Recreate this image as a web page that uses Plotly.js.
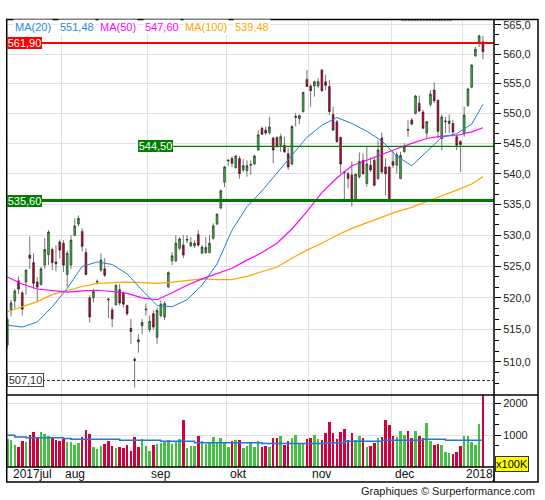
<!DOCTYPE html>
<html><head><meta charset="utf-8">
<script src="https://cdn.plot.ly/plotly-3.0.1.min.js"></script>
<style>html,body{margin:0;padding:0;background:#fff}#chart{width:545px;height:500px}</style>
</head><body><div id="chart"></div>
<script>
// ---- data ----
const monthLabels = ['2017jul','aug','sep','okt','nov','dec','2018j'];
const monthStart = [0,15,38,59,81,103,122];

const open = [512.6,518.0,519.5,522.7,520.8,522.5,526.8,525.6,522.5,522.1,525.2,526.9,527.7,525.7,528.9,528.7,523.7,525.2,530.0,531.8,
530.6,527.2,520.0,520.0,522.5,524.4,524.6,519.8,518.1,518.9,521.3,520.8,518.8,515.2,510.4,513.4,515.6,518.1,515.0,517.5,
513.8,517.2,517.0,521.7,525.9,525.9,527.9,528.4,529.2,528.3,528.3,530.1,527.1,527.2,527.2,529.5,531.8,534.4,538.6,542.1,
542.5,541.0,542.5,540.6,540.5,541.4,541.6,543.9,547.5,547.2,546.8,545.9,546.0,544.7,544.7,543.3,541.6,549.3,549.1,550.3,
555.7,554.6,554.6,554.6,557.3,555.3,554.5,549.8,548.6,546.0,540.3,540.0,539.8,535.7,539.5,542.2,538.4,541.4,542.2,539.2,
545.9,541.1,541.1,542.0,541.4,539.2,543.6,547.3,548.9,550.0,551.7,550.2,546.7,551.5,553.9,552.2,545.8,548.6,548.3,548.3,
546.1,545.3,546.6,551.3,554.4,559.7,562.1,562.1];
const high = [516.9,519.7,521.4,523.4,521.0,524.5,529.8,527.1,523.3,524.9,529.5,530.8,528.0,528.4,529.3,529.2,527.5,530.0,532.7,533.2,
531.1,527.9,520.4,521.4,522.9,527.1,526.3,520.0,518.5,522.1,522.2,521.0,518.9,516.7,510.7,514.3,516.7,519.1,517.2,518.0,
518.5,519.6,519.5,524.2,527.3,530.0,529.7,530.0,530.0,529.7,529.2,530.8,528.4,529.7,530.0,531.9,533.5,537.4,541.3,542.4,
542.8,543.1,542.9,542.4,542.2,542.2,543.1,547.2,547.8,547.8,549.4,546.1,546.1,546.6,546.1,544.3,548.0,550.0,549.8,553.6,
557.3,554.9,555.5,555.9,557.4,556.5,555.6,551.1,548.9,546.1,540.4,540.3,542.0,540.0,543.5,543.3,544.4,542.7,542.8,545.5,
546.8,542.5,541.2,543.6,543.6,543.6,545.0,548.9,549.2,553.1,553.0,550.6,548.7,553.9,555.2,552.3,549.8,549.4,549.8,548.9,
546.5,545.5,551.1,554.2,558.3,561.2,563.2,563.1];
const low = [512.1,517.1,518.3,520.6,517.2,520.5,524.6,521.4,519.3,522.0,524.6,525.2,524.4,524.2,526.3,524.1,521.7,524.6,529.8,531.4,
527.4,523.6,516.1,519.3,522.1,524.1,523.3,516.8,515.4,518.8,518.8,518.5,517.2,512.8,506.0,511.4,514.3,517.2,514.6,515.0,
512.8,516.9,516.5,521.6,525.2,525.7,527.6,526.3,528.7,528.1,527.9,528.1,527.0,527.0,527.1,529.3,531.6,534.2,537.8,541.3,
541.1,540.8,539.2,540.3,539.5,539.8,541.4,543.8,546.4,546.4,546.4,541.7,544.2,543.6,543.4,540.6,541.4,547.8,548.2,550.1,
554.4,551.1,552.8,554.2,553.6,553.9,549.7,547.1,545.1,540.1,535.7,537.6,534.6,535.5,539.2,539.8,537.9,540.3,537.9,539.0,
540.0,536.5,535.3,540.9,540.0,539.1,543.5,546.1,548.0,549.8,550.2,547.4,545.8,551.1,551.7,545.8,543.9,546.7,546.7,546.3,
543.9,540.3,546.1,551.1,554.2,559.5,561.2,559.1];
const close = [516.6,519.2,521.1,521.4,518.2,524.4,526.3,522.3,521.7,524.6,527.7,530.5,525.6,525.4,527.6,525.2,527.1,529.2,531.5,532.7,
528.2,523.7,517.0,521.0,522.6,526.0,523.6,519.7,516.7,522.0,519.2,519.0,517.5,514.7,510.2,513.1,516.1,518.2,516.3,515.4,
518.0,519.0,519.1,524.0,526.7,528.7,529.4,526.8,529.3,528.8,528.7,528.4,528.1,528.0,528.7,531.5,533.4,537.2,541.1,542.2,
541.7,542.9,540.0,541.3,541.3,541.5,542.9,546.4,546.5,546.7,547.7,543.9,544.6,546.1,543.6,541.1,547.8,549.5,549.6,553.5,
554.5,553.8,555.3,555.3,553.8,554.7,550.3,547.2,545.3,541.6,540.2,539.2,535.7,539.9,542.0,540.0,541.6,540.6,538.1,543.9,
540.3,540.0,535.6,541.4,543.1,543.0,544.4,547.2,548.2,552.9,550.4,547.5,548.6,553.2,552.1,547.0,549.4,548.7,548.7,546.9,
544.7,544.8,549.7,554.1,558.1,560.8,563.1,560.4];
const volume = [874,842,684,621,810,779,1000,1095,926,1095,1032,968,947,842,810,895,779,779,684,758,
947,1158,1032,621,558,653,716,810,653,589,632,589,684,495,937,621,874,653,495,684,
737,768,789,842,737,810,874,1474,600,663,663,968,810,716,758,937,768,916,758,621,
810,842,842,589,653,758,621,810,621,653,621,900,916,968,705,810,916,1000,737,737,
874,916,1000,874,842,1074,1421,1074,874,1105,1200,842,1084,842,968,916,632,663,758,916,
947,1474,1337,979,947,1126,1000,1137,926,1126,979,916,1389,821,684,737,705,474,442,421,
474,653,979,979,789,705,1368,2600];

const maIdx = [0,4,8,12,16,20,24,28,32,36,40,44,48,52,56,60,64,68,72,76,80,84,88,92,96,100,104,108,112,116,120,124,127];
const ma20 = [515.7,515.4,516.2,518.6,521.5,525.0,525.7,525.3,523.8,521.2,518.8,518.6,519.7,522.0,525.4,530.8,534.6,537.2,540.1,543.1,546.0,548.0,549.3,548.3,547.0,545.4,542.9,541.3,543.6,546.0,546.6,548.2,551.48];
const ma50 = [523.3,522.2,521.4,521.1,520.9,521.1,521.2,521.0,520.7,520.0,519.7,520.8,522.0,523.0,523.8,524.7,526.0,527.2,528.7,531.0,533.8,536.9,539.3,541.3,542.2,543.2,544.1,545.0,545.8,546.2,546.3,546.9,547.60];
const ma100 = [517.8,518.6,519.4,520.5,521.2,521.8,522.3,522.4,522.5,522.4,522.3,522.5,522.8,523.0,522.9,522.9,523.4,524.2,524.9,526.3,527.6,528.7,530.0,531.1,532.0,532.9,533.8,534.5,535.5,536.4,537.3,538.3,539.48];

const volMaIdx = [0,2,5,15,17,30,41,50,68,85,90,100,111,117,127];
const volMa = [1000,947,926,895,874,842,810,768,737,768,810,842,874,842,842];

const levelLast = 561.90, levelRes = 544.50, levelSup = 535.60, levelLow = 507.10;
const priceTicks = [510,515,520,525,530,535,540,545,550,555,560,565];
const volTicks = [1000,2000];

// ---- drawing ----
const GREEN = '#3cb83c', RED = '#cc0033', OUT = '#1a1a1a';
const FONT = 'Liberation Sans, Arial, sans-serif';
const idx = open.map((_, i) => i);
const fmt = (v, d) => v.toFixed(d).replace('.', ',');
const X0 = -0.08, X1 = 129.96;
const GRID = '#e2e2e2';

const minorP = [];
for (let j = 0; j <= 36; j++) { const v = 505 + j * 5 / 3; if (j % 3 !== 0 && v < 565.8) minorP.push(v); }

const traces = [
  {type:'candlestick', x: idx, open, high, low, close, xaxis:'x', yaxis:'y',
   whiskerwidth:0, line:{width:0.6},
   increasing:{line:{color:OUT, width:0.6}, fillcolor:GREEN},
   decreasing:{line:{color:OUT, width:0.6}, fillcolor:RED}, hoverinfo:'skip'},
  {type:'scatter', mode:'lines', x: maIdx, y: ma100, line:{color:'#ffa500', width:1.2}, yaxis:'y', hoverinfo:'skip'},
  {type:'scatter', mode:'lines', x: maIdx, y: ma50, line:{color:'#ff00ff', width:1.2}, yaxis:'y', hoverinfo:'skip'},
  {type:'scatter', mode:'lines', x: maIdx, y: ma20, line:{color:'#1e7fd8', width:1}, yaxis:'y', hoverinfo:'skip'},
  // level lines
  {type:'scatter', mode:'lines', x:[X0, X1], y:[levelLow, levelLow], line:{color:'#333', width:1, dash:'3px,2px'}, yaxis:'y', hoverinfo:'skip'},
  {type:'scatter', mode:'lines', x:[35, X1], y:[levelRes, levelRes], line:{color:'#008000', width:1.2}, yaxis:'y', hoverinfo:'skip'},
  {type:'scatter', mode:'lines', x:[X0, X1], y:[levelSup, levelSup], line:{color:'#007a00', width:3}, yaxis:'y', hoverinfo:'skip'},
  {type:'scatter', mode:'lines', x:[X0, X1], y:[levelLast, levelLast], line:{color:'#ff0000', width:2}, yaxis:'y', hoverinfo:'skip'},
  // volume
  {type:'bar', x: idx, y: volume, width:0.68, yaxis:'y2',
   marker:{color: idx.map(i => close[i] >= open[i] ? '#44c044' : '#d4003c'), line:{width:0}}, hoverinfo:'skip'},
  {type:'scatter', mode:'lines', x: volMaIdx, y: volMa, line:{color:'#1e78d4', width:1.5, shape:'hv'}, yaxis:'y2', hoverinfo:'skip'}
];

const ann = [];
// legend
const leg = [['MA(20)', '#2a86e0', 0.0117], [fmt(ma20[ma20.length-1],2), '#2a86e0', 0.1053],
             ['MA(50)', '#ff00ff', 0.1875], [fmt(ma50[ma50.length-1],2), '#ff00ff', 0.2786],
             ['MA(100)', '#ffa500', 0.362], [fmt(ma100[ma100.length-1],2), '#ffa500', 0.4647]];
leg.forEach(l => ann.push({xref:'paper', yref:'paper', x:l[2], y:0.985, xanchor:'left', yanchor:'middle',
  text:l[0], showarrow:false, bgcolor:'#fff', borderpad:1, font:{family:FONT, size:11, color:l[1]}}));
// level labels
const lvl = (val, xp, bg, fg, border) => ann.push({xref:'paper', yref:'y', x:xp, y:Math.log10(val),
  xanchor:'left', yanchor:'middle', text:fmt(val,2), showarrow:false, bgcolor:bg, bordercolor:border || bg,
  borderwidth: border ? 1 : 0, borderpad:0, width:35, height:12, font:{family:FONT, size:11, color:fg}});
lvl(levelLast, 0, '#ff0000', '#fff');
lvl(levelRes, 0.2696, '#008000', '#fff');
lvl(levelSup, 0, '#008000', '#fff');
lvl(levelLow, 0, '#fff', '#333', '#444');
// month labels
monthLabels.forEach((t, k) => ann.push({xref:'x', yref:'paper', x: k === 0 ? 0 : monthStart[k] - 0.5,
  xshift: k === 0 ? 3.5 : 1.5, y:-0.0157, xanchor:'left', yanchor:'middle', text:t, showarrow:false,
  font:{family:FONT, size:12, color:'#111'}}));
// x100K
ann.push({xref:'paper', yref:'paper', x:1.002, y:0.0063, xanchor:'left', yanchor:'middle', text:'x100K',
  showarrow:false, bgcolor:'#ffff00', bordercolor:'#333', borderwidth:1, borderpad:0, width:32, height:14,
  font:{family:FONT, size:11, color:'#000'}});
// credit
ann.push({xref:'paper', yref:'paper', x:1.0883, y:-0.0537, xanchor:'right', yanchor:'middle',
  text:'Graphiques © Surperformance.com', showarrow:false, font:{family:FONT, size:11, color:'#222'}});

const frame = {color:'#000', width:1.5};
const shapes = [
  {type:'rect', xref:'paper', yref:'paper', x0:-0.0006, x1:1.0904, y0:-0.0336, y1:1.0011, line:frame, fillcolor:'rgba(0,0,0,0)'},
  {type:'line', xref:'paper', yref:'paper', x0:-0.0006, x1:1.0904, y0:0.1611, y1:0.1611, line:frame},
  {type:'line', xref:'paper', yref:'paper', x0:-0.0006, x1:1, y0:0, y1:0, line:frame},
  {type:'line', xref:'paper', yref:'paper', x0:1, x1:1, y0:-0.0336, y1:1.0011, line:frame},
  {type:'line', xref:'paper', yref:'paper', x0:0.8105, x1:0.9152, y0:0.9985, y1:0.9985, line:{color:'#555', width:1, dash:'2px,1px'}}
];

const tickfont = {family:FONT, size:11, color:'#222'};
const layout = {
  width:545, height:500, margin:{l:7, r:51, t:20, b:33}, paper_bgcolor:'#fff', plot_bgcolor:'#fff',
  showlegend:false, boxgap:0.32, bargap:0,
  xaxis:{range:[X0, X1], tickvals: monthStart.slice(1).map(v => v - 0.5), showticklabels:false, ticks:'',
         showgrid:true, gridcolor:GRID, gridwidth:1, zeroline:false, showline:false, rangeslider:{visible:false}, fixedrange:true},
  yaxis:{type:'log', domain:[0.1611, 1], range:[2.70318, 2.75268], side:'right', anchor:'x',
         tickmode:'array', tickvals: priceTicks, ticktext: priceTicks.map(v => fmt(v,1)),
         ticks:'outside', ticklen:6, tickwidth:1, tickcolor:'#000', tickfont,
         showgrid:true, gridcolor:GRID, gridwidth:1, zeroline:false, showline:false,
         minor:{tickmode:'array', tickvals:minorP, ticks:'outside', ticklen:4, tickwidth:1, tickcolor:'#000', showgrid:false}},
  yaxis2:{domain:[0, 0.1611], range:[0, 2270], side:'right', anchor:'x',
         tickmode:'array', tickvals: volTicks, ticktext: volTicks.map(String),
         ticks:'outside', ticklen:6, tickwidth:1, tickcolor:'#000', tickfont,
         showgrid:true, gridcolor:GRID, gridwidth:1, zeroline:false, showline:false,
         minor:{tickmode:'array', tickvals:[333.3,666.7,1333.3,1666.7], ticks:'outside', ticklen:4, tickwidth:1, tickcolor:'#000', showgrid:false}},
  annotations: ann, shapes
};
Plotly.newPlot('chart', traces, layout, {staticPlot:true, displayModeBar:false});
</script></body></html>
